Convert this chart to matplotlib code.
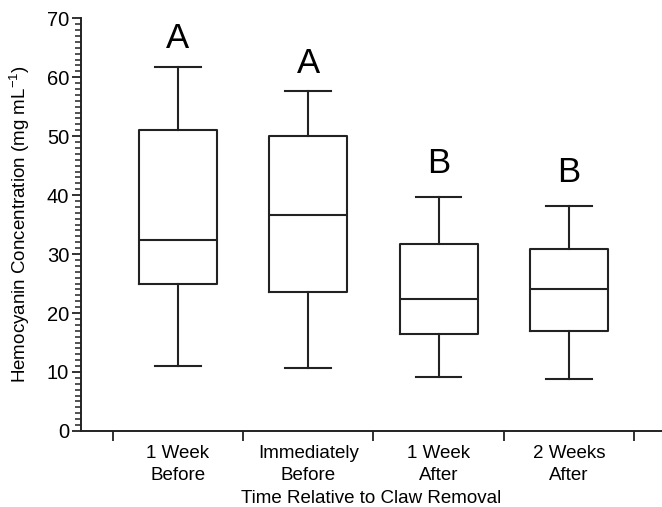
import matplotlib
matplotlib.use("Agg")
import matplotlib.pyplot as plt
from matplotlib.ticker import MultipleLocator

plt.rcParams['font.family'] = ['Liberation Sans', 'DejaVu Sans']

# Hemocyanin concentration summaries per sampling time
categories = ["1 Week\nBefore", "Immediately\nBefore", "1 Week\nAfter", "2 Weeks\nAfter"]
whisker_low = [11.0, 10.7, 9.2, 8.8]
q1 = [24.9, 23.6, 16.4, 16.9]
median = [32.4, 36.6, 22.4, 24.0]
q3 = [51.0, 50.1, 31.7, 30.8]
whisker_high = [61.8, 57.6, 39.7, 38.1]
group_letters = ["A", "A", "B", "B"]
letter_y = [66.6, 62.4, 45.3, 43.9]

ink = "#222222"
lw = 1.5

fig = plt.figure(figsize=(6.62, 5.07), dpi=100)
ax = fig.add_axes([0.1224, 0.150, 0.877, 0.814])

stats = []
for i in range(len(categories)):
    stats.append(dict(whislo=whisker_low[i], q1=q1[i], med=median[i],
                      q3=q3[i], whishi=whisker_high[i], fliers=[]))

positions = list(range(1, len(categories) + 1))
ax.bxp(stats, positions=positions, widths=0.6, showfliers=False,
       boxprops=dict(color=ink, linewidth=lw),
       medianprops=dict(color=ink, linewidth=lw),
       whiskerprops=dict(color=ink, linewidth=lw),
       capprops=dict(color=ink, linewidth=lw),
       capwidths=0.35)

for x, y, t in zip(positions, letter_y, group_letters):
    ax.text(x, y, t, ha="center", va="center", fontsize=25, color="black")

ax.set_xlim(0.257, 4.71)
ax.set_ylim(0, 70)

# Category boundaries as ticks, names centred under each box
ax.set_xticks([p - 0.5 for p in positions] + [positions[-1] + 0.5])
ax.set_xticklabels([])
ax.set_xticks(positions, minor=True)
ax.set_xticklabels(categories, minor=True, fontsize=13.5, linespacing=1.42)
ax.tick_params(axis="x", which="major", length=7, width=1.3, color=ink, direction="out")
ax.tick_params(axis="x", which="minor", length=0, pad=10)

ax.yaxis.set_major_locator(MultipleLocator(10))
ax.yaxis.set_minor_locator(MultipleLocator(1))
ax.tick_params(axis="y", which="major", length=6.5, width=1.3, color=ink,
               labelsize=14.5, pad=2)
ax.tick_params(axis="y", which="minor", length=4, width=1.1, color=ink)

for side in ("top", "right"):
    ax.spines[side].set_visible(False)
for side in ("left", "bottom"):
    ax.spines[side].set_linewidth(1.4)
    ax.spines[side].set_color(ink)

ax.set_ylabel(r"Hemocyanin Concentration (mg mL$^{\mathdefault{-1}}$)", fontsize=13.5)
ax.yaxis.set_label_coords(-0.084, 0.5)
ax.set_xlabel("Time Relative to Claw Removal", fontsize=13.5, labelpad=4)

fig.savefig("out.png", dpi=100)
